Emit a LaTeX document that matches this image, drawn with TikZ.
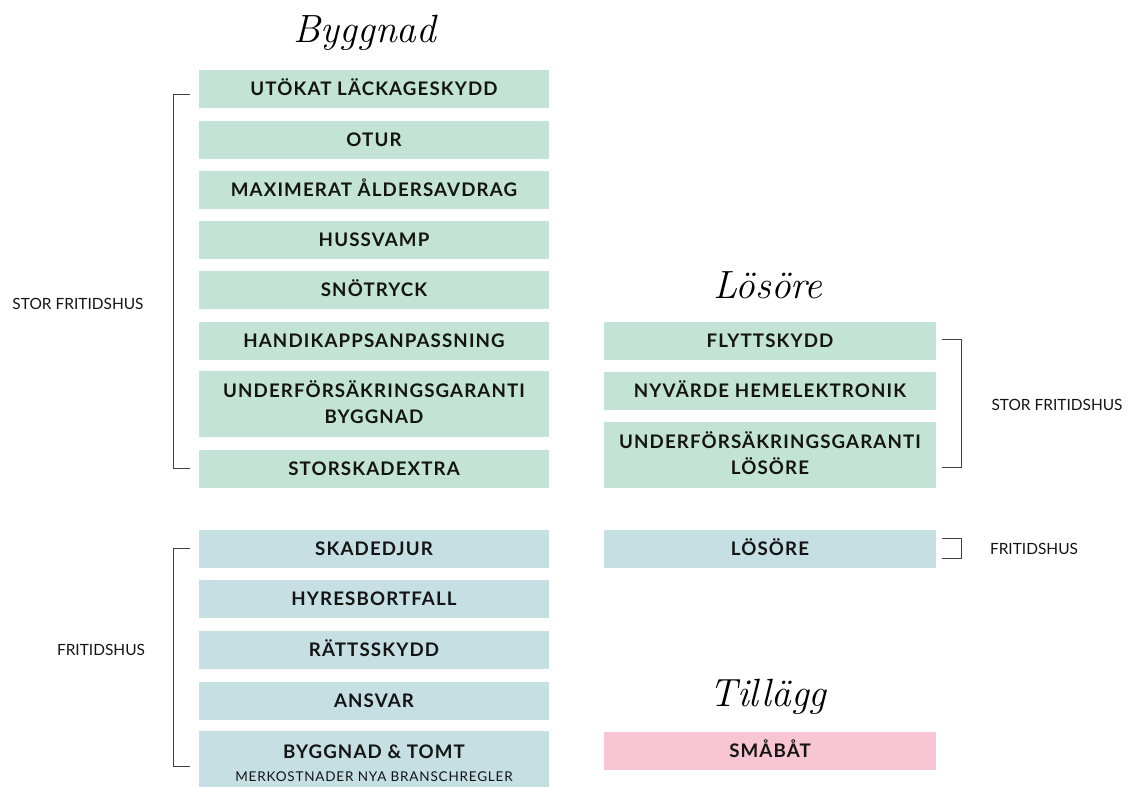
\documentclass[tikz,border=0pt]{standalone}
\usepackage{fontspec}
\newfontfamily\boxfont[LetterSpace=6.0]{Lato}
\newfontfamily\labelfont{Lato}
\usetikzlibrary{positioning}
\definecolor{byggcol}{RGB}{194,227,214}
\definecolor{fritcol}{RGB}{197,223,227}
\definecolor{tillcol}{RGB}{247,197,212}
\definecolor{inkcol}{RGB}{20,20,20}

\begin{document}
\begin{tikzpicture}[x=0.025cm, y=-0.025cm,
  item/.style={inner sep=0pt, minimum height=0.95cm, text=inkcol, align=center,
    text height=9.4pt, text depth=0pt,
    font=\boxfont\bfseries\fontsize{13.3}{19}\selectfont},
  lcol/.style={item, minimum width=8.75cm},
  rcol/.style={item, minimum width=8.3cm},
  tall/.style={minimum height=1.65cm, text height=28.4pt},
  grp/.style={font=\labelfont\fontsize{11}{13}\selectfont, text=inkcol},
  title/.style={font=\itshape\fontsize{28}{30}\selectfont},
  brace/.style={draw=black!75, line width=0.6pt}]
  \useasboundingbox (0,0) rectangle (1129,787);
  % rubriker
  \node[title] (tbygg) at (365,33) {Byggnad};
  \node[title] (tlos) at (768,285) {Lösöre};
  \node[title] (ttill) at (768,697) {Tillägg};
  % byggnad, stor fritidshus
  \node[lcol, fill=byggcol] (b1) at (374,89) {UTÖKAT LÄCKAGESKYDD};
  \node[lcol, fill=byggcol] (b2) at (374,140) {OTUR};
  \node[lcol, fill=byggcol] (b3) at (374,190) {MAXIMERAT ÅLDERSAVDRAG};
  \node[lcol, fill=byggcol] (b4) at (374,240) {HUSSVAMP};
  \node[lcol, fill=byggcol] (b5) at (374,290) {SNÖTRYCK};
  \node[lcol, fill=byggcol] (b6) at (374,341) {HANDIKAPPSANPASSNING};
  \node[lcol, tall, fill=byggcol] (b7) at (374,404) {UNDERFÖRSÄKRINGSGARANTI\\BYGGNAD};
  \node[lcol, fill=byggcol] (b8) at (374,469) {STORSKADEXTRA};
  % byggnad, fritidshus
  \node[lcol, fill=fritcol] (f1) at (374,549) {SKADEDJUR};
  \node[lcol, fill=fritcol] (f2) at (374,599) {HYRESBORTFALL};
  \node[lcol, fill=fritcol] (f3) at (374,650) {RÄTTSSKYDD};
  \node[lcol, fill=fritcol] (f4) at (374,701) {ANSVAR};
  \node[lcol, minimum height=1.4cm, fill=fritcol] (f5) at (374,759) {};
  \node[item] (f5a) at (374,752) {BYGGNAD \& TOMT};
  \node[font=\boxfont\fontsize{9.6}{11}\selectfont, text=inkcol] (f5b) at (374,777) {MERKOSTNADER NYA BRANSCHREGLER};
  % lösöre
  \node[rcol, fill=byggcol] (l1) at (770,341) {FLYTTSKYDD};
  \node[rcol, fill=byggcol] (l2) at (770,391) {NYVÄRDE HEMELEKTRONIK};
  \node[rcol, tall, fill=byggcol] (l3) at (770,455) {UNDERFÖRSÄKRINGSGARANTI\\LÖSÖRE};
  \node[rcol, fill=fritcol] (l4) at (770,549) {LÖSÖRE};
  % tillägg
  \node[rcol, fill=tillcol] (s1) at (770,751) {SMÅBÅT};
  % klamrar och grupper
  \draw[brace] (190,94) -- (173,94) -- (173,468) -- (190,468);
  \draw[brace] (190,548) -- (173,548) -- (173,766) -- (190,766);
  \draw[brace] (942,339) -- (961,339) -- (961,467) -- (942,467);
  \draw[brace] (942,538) -- (961,538) -- (961,558) -- (942,558);
  \node[grp] (g1) at (78,304) {STOR FRITIDSHUS};
  \node[grp] (g2) at (101,650) {FRITIDSHUS};
  \node[grp] (g3) at (1057,405) {STOR FRITIDSHUS};
  \node[grp] (g4) at (1034,549) {FRITIDSHUS};
\end{tikzpicture}
\end{document}
